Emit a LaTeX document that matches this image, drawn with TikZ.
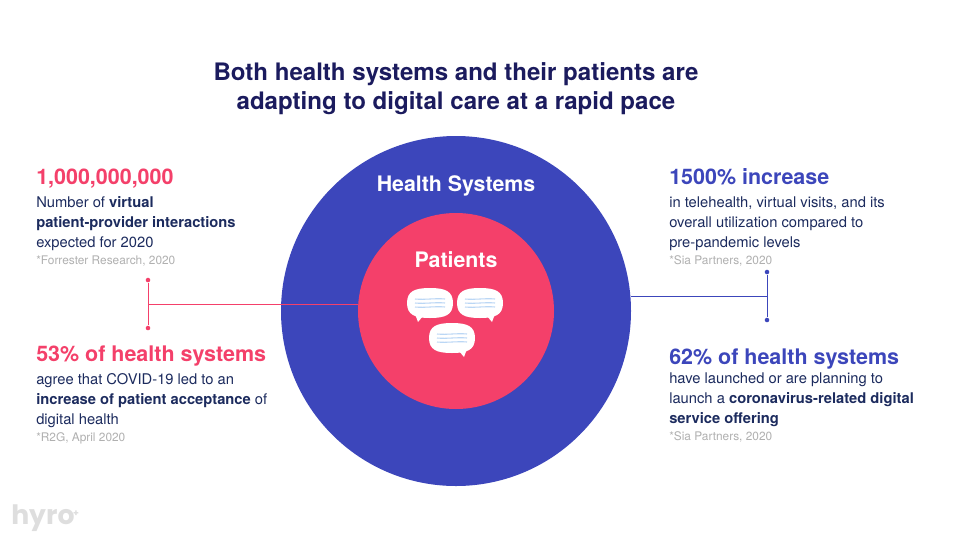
\documentclass[tikz,border=0pt]{standalone}
\usepackage{fontspec}
\setmainfont{TeX Gyre Heros}
\newfontfamily\logofont{Poppins}
\usetikzlibrary{positioning}
\definecolor{hyroblue}{HTML}{3C46BB}
\definecolor{hyrored}{HTML}{F4406A}
\definecolor{hyronavy}{HTML}{1B1B5E}
\definecolor{hyrotext}{HTML}{1C2B5E}
\definecolor{hyrogray}{HTML}{B0B0B0}
\definecolor{bubbleline}{HTML}{BBD7F5}
\tikzset{
  headline/.style={anchor=base west, inner sep=0pt, font=\bfseries\fontsize{16.1pt}{18pt}\selectfont},
  bodytext/.style={anchor=north west, inner sep=0pt, align=left, text=hyrotext, font=\fontsize{11.05pt}{15pt}\selectfont},
  sourcetext/.style={anchor=base west, inner sep=0pt, text=hyrogray, font=\fontsize{8.9pt}{10pt}\selectfont},
  enddot/.style={circle, inner sep=0pt, minimum size=3.4pt},
}
\begin{document}
\begin{tikzpicture}[x=0.75pt, y=-0.75pt]
            \useasboundingbox (0,0) rectangle (960,540);
            \fill[white] (0,0) rectangle (960,540);

            \node[align=center, text=hyronavy, font=\bfseries\fontsize{18.05pt}{21.75pt}\selectfont] (title) at (456,88.5) {Both health systems and their patients are\\adapting to digital care at a rapid pace};

            % Circles
            \node[circle, fill=hyroblue, inner sep=0pt, minimum size=262.5pt] (systems) at (456,311) {};
            \node[circle, fill=hyrored, inner sep=0pt, minimum size=147pt] (patients) at (456,311) {};
            \node[text=white, font=\bfseries\fontsize{16pt}{18pt}\selectfont] (systemslabel) at (456,185.5) {Health Systems};
            \node[text=white, font=\bfseries\fontsize{16pt}{18pt}\selectfont] (patientslabel) at (456,260) {Patients};

            % Speech bubbles
            \foreach \cx/\cy/\tx in {430/303/-1, 480/303/1, 452/338/1} {
                \fill[white] (\cx-23,\cy) .. controls (\cx-23,\cy-12) and (\cx-15,\cy-15) .. (\cx,\cy-15)
                    .. controls (\cx+15,\cy-15) and (\cx+23,\cy-12) .. (\cx+23,\cy)
                    .. controls (\cx+23,\cy+12) and (\cx+15,\cy+15) .. (\cx,\cy+15)
                    .. controls (\cx-15,\cy+15) and (\cx-23,\cy+12) .. (\cx-23,\cy) -- cycle;
                \fill[white] (\cx+\tx*7,\cy+13) -- (\cx+\tx*12,\cy+19) -- (\cx+\tx*15,\cy+11) -- cycle;
                \foreach \dy in {-4,0,4} {
                    \draw[bubbleline, line width=0.8pt] (\cx-15,\cy+\dy) .. controls (\cx-5,\cy+\dy+1) and (\cx+5,\cy+\dy-1) .. (\cx+15,\cy+\dy);
                }
            }

            % Left connector
            \node[enddot, fill=hyrored] (lefttop) at (148,280) {};
            \node[enddot, fill=hyrored] (leftbottom) at (148,328) {};
            \coordinate (leftjoin) at (148,304.5);
            \draw[hyrored, line width=0.75pt] (lefttop) -- (leftbottom);
            \draw[hyrored, line width=0.75pt] (leftjoin) -- (leftjoin -| patients.west);

            % Right connector
            \node[enddot, fill=hyroblue] (righttop) at (767,272) {};
            \node[enddot, fill=hyroblue] (rightbottom) at (767,320) {};
            \coordinate (rightjoin) at (767,296);
            \draw[hyroblue, line width=0.75pt] (righttop) -- (rightbottom);
            \draw[hyroblue, line width=0.75pt] (rightjoin) -- (rightjoin -| systems.east);

            % Left texts
            \node[headline, text=hyrored] (billion) at (36,184) {1,000,000,000};
            \node[bodytext] (billionbody) at (36,196.5) {Number of \textbf{virtual}\\\textbf{patient-provider interactions}\\expected for 2020};
            \node[sourcetext] (billionsource) at (36,264) {*Forrester Research, 2020};

            \node[headline, text=hyrored] (fiftythree) at (36,361) {53\% of health systems};
            \node[bodytext] (fiftythreebody) at (36,373.5) {agree that COVID-19 led to an\\\textbf{increase of patient acceptance} of\\digital health};
            \node[sourcetext] (fiftythreesource) at (36,441) {*R2G, April 2020};

            % Right texts
            \node[headline, text=hyroblue] (increase) at (669,184.5) {1500\% increase};
            \node[bodytext] (increasebody) at (669,196.5) {in telehealth, virtual visits, and its\\overall utilization compared to\\pre-pandemic levels};
            \node[sourcetext] (increasesource) at (669,264) {*Sia Partners, 2020};

            \node[headline, text=hyroblue] (sixtytwo) at (669,364) {62\% of health systems};
            \node[bodytext] (sixtytwobody) at (669,372.5) {have launched or are planning to\\launch a \textbf{coronavirus-related digital}\\\textbf{service offering}};
            \node[sourcetext] (sixtytwosource) at (669,440) {*Sia Partners, 2020};

            % Logo
            \node[anchor=base west, inner sep=0pt, text=black!13, font=\logofont\bfseries\fontsize{20pt}{22pt}\selectfont] (logo) at (11,524) {hyro\kern-1pt\raisebox{6pt}{\fontsize{7pt}{8pt}\selectfont +}};
\end{tikzpicture}
\end{document}
